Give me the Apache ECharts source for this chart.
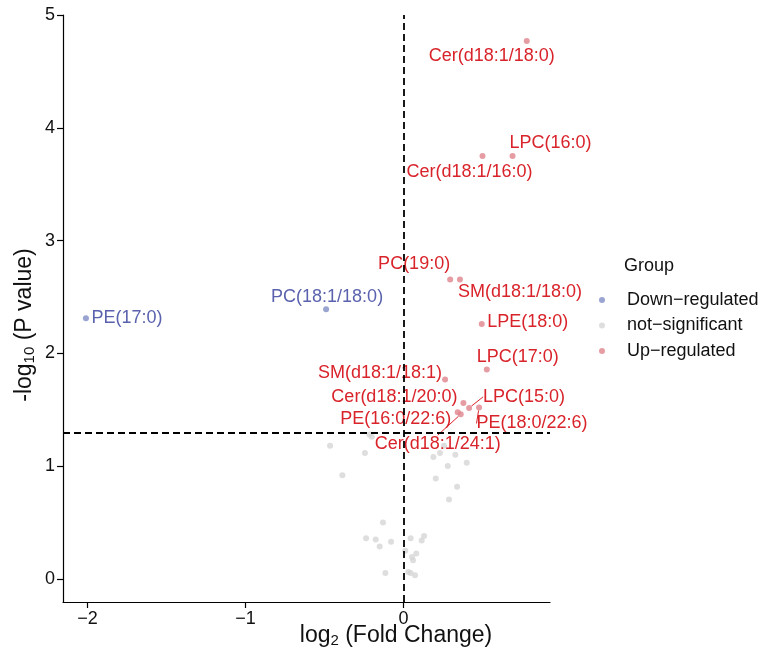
<!DOCTYPE html>
<html><head><meta charset="utf-8">
<script src="https://cdn.jsdelivr.net/npm/echarts@6/dist/echarts.min.js"></script>
<style>html,body{margin:0;padding:0;background:#fff}#c{width:774px;height:655px}</style>
</head><body><div id="c"></div>
<script>
// ---- data ----
const groupNames = ['Down\u2212regulated', 'not\u2212significant', 'Up\u2212regulated'];
const downNames = ['PE(17:0)', 'PC(18:1/18:0)'];
const downLog2FC = [-2.01, -0.49];
const downNegLogP = [2.31, 2.39];
const upNames = ['Cer(d18:1/18:0)', 'LPC(16:0)', 'Cer(d18:1/16:0)', 'PC(19:0)', 'SM(d18:1/18:0)', 'LPE(18:0)', 'LPC(17:0)', 'SM(d18:1/18:1)', 'Cer(d18:1/20:0)', 'LPC(15:0)', 'PE(18:0/22:6)', 'PE(16:0/22:6)', 'Cer(d18:1/24:1)'];
const upLog2FC = [0.78, 0.69, 0.50, 0.295, 0.357, 0.495, 0.527, 0.263, 0.379, 0.415, 0.478, 0.343, 0.362];
const upNegLogP = [4.77, 3.75, 3.75, 2.655, 2.655, 2.26, 1.856, 1.767, 1.56, 1.516, 1.52, 1.477, 1.46];
const nsLog2FC = [-0.465, -0.244, -0.387, -0.216, -0.201, 0.189, 0.231, 0.328, 0.40, 0.28, 0.204, 0.339, 0.288, 0.256, -0.13, -0.237, -0.176, -0.151, -0.079, 0.045, 0.13, 0.115, 0.011, 0.081, 0.054, 0.06, -0.115, 0.03, 0.045, 0.073];
const nsNegLogP = [1.18, 1.116, 0.92, 1.28, 1.26, 1.08, 1.116, 1.10, 1.03, 1.00, 0.89, 0.817, 0.704, 1.18, 0.50, 0.36, 0.35, 0.287, 0.33, 0.36, 0.38, 0.34, 0.25, 0.225, 0.195, 0.166, 0.053, 0.062, 0.053, 0.033];
const xTicks = [-2, -1, 0];
const yTicks = [0, 1, 2, 3, 4, 5];
const fcCutoff = 0;
const pCutoff = 1.301;

// ---- label placement (pixel offsets, style only) ----
const downLabelOffsets = [[41, 0], [1, -12]];
const upLabelOffsets = [[-35, 15], [38, -13], [-13, 16], [-36, -15], [60, 13], [46, -2], [31, -13], [-65, -7], [-69, -6], [55, -11], [53, 16], [-62, 7], [-23, 30]];
const upLeaderLines = ['LPC(15:0)', 'PE(18:0/22:6)', 'Cer(d18:1/24:1)'];

const FONT = 'Liberation Sans, Arial, Helvetica, sans-serif';
const RED_PT = '#E0838C', RED_TXT = '#D9232A';
const BLUE_PT = '#7F8DC6', BLUE_TXT = '#5A62AE';
const GREY_PT = '#D6D6D6';

function minusFmt(v) { return v < 0 ? '\u2212' + Math.abs(v) : String(v); }

const chart = echarts.init(document.getElementById('c'), null, { renderer: 'canvas' });

const downData = downNames.map((n, i) => ({ name: n, value: [downLog2FC[i], downNegLogP[i]] }));
const upData = upNames.map((n, i) => ({
  name: n, value: [upLog2FC[i], upNegLogP[i]],
  labelLine: { show: upLeaderLines.includes(n) }
}));
const nsData = nsLog2FC.map((x, i) => [x, nsNegLogP[i]]);

const labelStyle = (color) => ({
  show: true, position: 'inside', formatter: '{b}', color: color, opacity: 1,
  fontSize: 18, fontFamily: FONT, align: 'center', verticalAlign: 'middle',
  textBorderWidth: 0, textBorderColor: 'transparent'
});

const subRich = { sub: { fontSize: 15, verticalAlign: 'bottom', lineHeight: 28, fontFamily: FONT, color: '#111', padding: [0, 0, 2, 0] } };

chart.setOption({
  animation: false,
  textStyle: { fontFamily: FONT },
  title: {
    text: 'Group', left: 624, top: 257, padding: 0,
    textStyle: { fontSize: 18, fontWeight: 'normal', color: '#111', fontFamily: FONT }
  },
  legend: {
    data: groupNames, orient: 'vertical', left: 599, top: 291, padding: 0,
    icon: 'circle', itemWidth: 6, itemHeight: 6, itemGap: 7.5,
    selectedMode: false,
    textStyle: { fontSize: 18, color: '#111', fontFamily: FONT, padding: [0, 0, 0, 17] }
  },
  grid: { left: 63, right: 224, top: 15, bottom: 53, outerBoundsMode: 'none' },
  xAxis: {
    type: 'value', min: -2.155, max: 0.927,
    name: 'log{sub|2} (Fold Change)', nameLocation: 'middle', nameGap: 20, nameMoveOverlap: false,
    nameTextStyle: {
      fontSize: 23, color: '#111', fontFamily: FONT, padding: [0, 0, 0, 179], lineHeight: 28,
      rich: subRich
    },
    splitLine: { show: false },
    axisLine: { onZero: false, lineStyle: { color: '#000', width: 1.2 } },
    axisTick: { show: true, length: 6, customValues: xTicks, lineStyle: { color: '#000', width: 1.2 } },
    axisLabel: { customValues: xTicks, formatter: minusFmt, fontSize: 18, color: '#111', margin: 8, fontFamily: FONT }
  },
  yAxis: {
    type: 'value', min: -0.205, max: 5.0,
    name: '-log{sub|10} (P value)', nameLocation: 'middle', nameGap: 24, nameRotate: 90, nameMoveOverlap: false,
    nameTextStyle: {
      fontSize: 23, color: '#111', fontFamily: FONT, lineHeight: 28, padding: [0, 33, 0, 0],
      rich: subRich
    },
    splitLine: { show: false },
    axisLine: { show: true, onZero: false, lineStyle: { color: '#000', width: 1.2 } },
    axisTick: { show: true, length: 6, customValues: yTicks, lineStyle: { color: '#000', width: 1.2 } },
    axisLabel: { customValues: yTicks, fontSize: 18, color: '#111', margin: 8, fontFamily: FONT }
  },
  series: [
    {
      name: groupNames[1], type: 'scatter', data: nsData, symbolSize: 6,
      itemStyle: { color: GREY_PT }, emphasis: { disabled: true }, silent: true, z: 2,
      markLine: {
        silent: true, symbol: 'none', label: { show: false },
        lineStyle: { color: '#000', width: 1.8, type: [7, 4] },
        data: [{ xAxis: fcCutoff }, { yAxis: pCutoff }]
      }
    },
    {
      name: groupNames[0], type: 'scatter', data: downData, symbolSize: 6,
      itemStyle: { color: BLUE_PT }, emphasis: { disabled: true }, silent: true, z: 3,
      label: labelStyle(BLUE_TXT),
      labelLayout: (p) => ({ dx: downLabelOffsets[p.dataIndex][0], dy: downLabelOffsets[p.dataIndex][1] })
    },
    {
      name: groupNames[2], type: 'scatter', data: upData, symbolSize: 6,
      itemStyle: { color: RED_PT }, emphasis: { disabled: true }, silent: true, z: 3,
      label: labelStyle(RED_TXT),
      labelLine: { show: false, length2: 0, lineStyle: { color: RED_TXT, width: 1 } },
      labelLayout: (p) => ({ dx: upLabelOffsets[p.dataIndex][0], dy: upLabelOffsets[p.dataIndex][1] })
    }
  ]
});
</script>
</body></html>
